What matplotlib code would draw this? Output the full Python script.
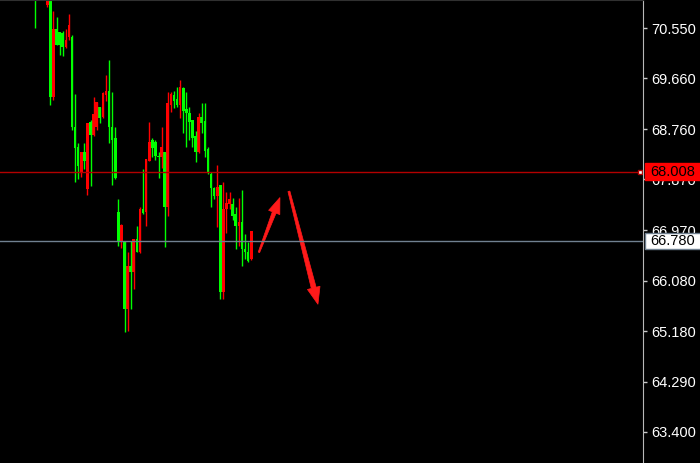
import numpy as np
import matplotlib
matplotlib.use('Agg')
import matplotlib.pyplot as plt
import matplotlib.patches as patches
from matplotlib.transforms import IdentityTransform

plt.rcParams["font.family"] = ["Liberation Sans", "DejaVu Sans"]

nan = np.nan
# candle data (index 1-3 lie above the visible range)
opens = [71.20, nan, nan, nan, 70.95, 71.15, 69.33, 70.53, 70.48, 70.46,
         70.21, 70.39, 70.39, 68.79, 68.45, 68.00, 68.35, 67.70, 68.89, 68.66,
         68.79, 69.16, 68.98, 69.37, 69.44, 68.80, 68.61, 67.29, 66.76, 66.78,
         65.58, 66.33, 66.23, 66.81, 66.58, 67.34, 67.29, 68.20, 68.57, 68.54,
         68.29, 68.26, 68.36, 67.39, 69.19, 69.37, 69.30, 69.19, 69.49, 69.12,
         69.05, 68.93, 68.63, 68.35, 68.98, 68.91, 68.40, 67.96, 67.71, 67.57,
         67.78, 65.88, 67.34, 67.43, 67.43, 67.25, 67.04, 67.11, 66.63, 66.58,
         66.46]
highs = [71.25, nan, nan, nan, 71.20, 71.20, 70.85, 70.74, 70.48, 70.50,
         70.53, 70.80, 70.42, 69.39, 68.52, 68.36, 68.52, 68.87, 68.93, 69.33,
         69.24, 69.16, 69.42, 69.72, 69.99, 69.42, 68.80, 67.52, 67.08, 66.78,
         66.58, 66.78, 66.81, 67.04, 67.38, 68.05, 68.24, 68.89, 68.60, 68.57,
         68.36, 68.80, 68.36, 69.42, 69.42, 69.44, 69.51, 69.63, 69.51, 69.42,
         69.16, 68.93, 68.72, 69.05, 69.23, 69.23, 68.45, 68.01, 67.74, 68.13,
         67.78, 67.82, 67.64, 67.64, 67.55, 67.38, 67.55, 67.69, 66.90, 66.76,
         66.95]
lows = [70.55, nan, nan, nan, 70.93, 69.19, 69.28, 70.25, 70.07, 70.06,
        70.20, 70.34, 68.75, 67.83, 67.87, 67.92, 68.05, 67.60, 67.75, 68.63,
        68.75, 68.87, 68.96, 69.25, 68.52, 67.78, 67.87, 66.69, 66.66, 65.17,
        65.19, 65.58, 65.93, 66.58, 66.56, 67.25, 67.04, 68.19, 68.26, 68.22,
        67.90, 68.08, 66.67, 67.22, 69.07, 69.14, 69.16, 68.96, 68.70, 68.45,
        68.57, 68.45, 68.17, 68.33, 68.70, 68.26, 67.96, 67.39, 67.53, 67.02,
        65.75, 65.75, 66.93, 67.34, 67.16, 66.63, 66.69, 66.33, 66.46, 66.41,
        66.44]
closes = [71.10, nan, nan, nan, 71.10, 69.33, 70.53, 70.25, 70.25, 70.21,
          70.34, 70.60, 68.79, 68.43, 68.10, 68.36, 68.19, 68.87, 68.66, 69.02,
          69.24, 68.96, 69.40, 69.44, 68.79, 68.57, 67.90, 66.76, 67.07, 65.58,
          66.33, 66.23, 66.81, 66.58, 67.34, 67.27, 68.24, 68.54, 68.43, 68.28,
          68.26, 68.45, 67.39, 69.23, 69.39, 69.25, 69.19, 69.51, 69.09, 69.05,
          68.89, 68.61, 68.35, 68.98, 68.87, 68.38, 67.99, 67.71, 67.57, 67.74,
          65.88, 67.34, 67.46, 67.52, 67.22, 67.04, 67.11, 66.63, 66.58, 66.42,
          66.95]

price_ticks = [70.550, 69.660, 68.760, 67.870, 66.970, 66.080, 65.180, 64.290, 63.400]
red_level = 68.008
grey_level = 66.780

# hand drawn arrows: (tail index, tail price, tip index, tip price)
arrows = [(72.5, 66.58, 79.3, 67.55),
          (82.2, 67.66, 91.6, 65.66)]

UP = "#ff0000"
DOWN = "#00ff00"


def draw_arrow(ax, x0, y0, x1, y1, tail_w, neck_w, head_w, head_len):
    # tapered arrow built in display pixels so the head keeps its shape
    p0 = ax.transData.transform((x0, y0))
    p1 = ax.transData.transform((x1, y1))
    d = p1 - p0
    d = d / np.hypot(*d)
    n = np.array([-d[1], d[0]])
    base = p1 - d * head_len
    pts = [p0 + n * tail_w / 2, base + n * neck_w / 2, base + n * head_w / 2,
           p1, base - n * head_w / 2, base - n * neck_w / 2, p0 - n * tail_w / 2]
    ax.add_patch(patches.Polygon(pts, closed=True, facecolor="#ff1a1a",
                                 edgecolor="#ff1a1a", linewidth=0.5,
                                 transform=IdentityTransform()))


def price_label(ax, level, text, face, edge):
    ytr = ax.get_yaxis_transform()
    box_h = 0.29
    ax.add_patch(patches.Rectangle((1.003, level - box_h / 2), 0.09, box_h,
                                   transform=ytr, facecolor=face, edgecolor=edge,
                                   linewidth=1, clip_on=False, zorder=5))
    ax.text(1.0115, level, text, transform=ytr, ha="left", va="center",
            fontsize=10.5, color="black", clip_on=False, zorder=6)


fig = plt.figure(figsize=(7.0, 4.63), dpi=100, facecolor="black")
ax = fig.add_axes([0, 0, 643 / 700, 1])
ax.set_facecolor("black")

o = np.array(opens)
h = np.array(highs)
l = np.array(lows)
c = np.array(closes)
idx = np.arange(len(o))
colors = np.where(c >= o, UP, DOWN)

ax.vlines(idx, l, h, colors=colors, linewidth=1.0)
body = np.maximum(np.abs(c - o), 0.02)
ax.bar(idx, body, bottom=np.fmin(o, c), width=0.85, color=colors, linewidth=0)

ax.set_xlim(-11.3, 196.8)
ax.set_ylim(62.851, 71.046)

ax.axhline(red_level, color="#b30000", linewidth=1.0)
ax.axhline(grey_level, color="#708090", linewidth=1.0)

ax.yaxis.tick_right()
ax.set_yticks(price_ticks)
ax.set_yticklabels(["%.3f" % t for t in price_ticks])
ax.tick_params(axis="y", colors="#c8c8c8", labelcolor="white", length=3,
               width=1, pad=3, labelsize=10.5)
ax.set_xticks([])
for side in ["left", "bottom"]:
    ax.spines[side].set_visible(False)
ax.spines["right"].set_color("#b8b8b8")
ax.spines["top"].set_color("#303030")

price_label(ax, red_level, "68.008", "#ff0000", "#ff0000")
price_label(ax, grey_level, "66.780", "white", "#708090")
ax.plot([0.996], [red_level], transform=ax.get_yaxis_transform(), marker="s",
        markersize=3, markerfacecolor="white", markeredgecolor="#b30000",
        clip_on=False)

fig.canvas.draw()
draw_arrow(ax, *arrows[0], tail_w=1.5, neck_w=4, head_w=12, head_len=16)
draw_arrow(ax, *arrows[1], tail_w=2, neck_w=5, head_w=13, head_len=17)

plt.savefig("out.png", dpi=100, facecolor="black")
